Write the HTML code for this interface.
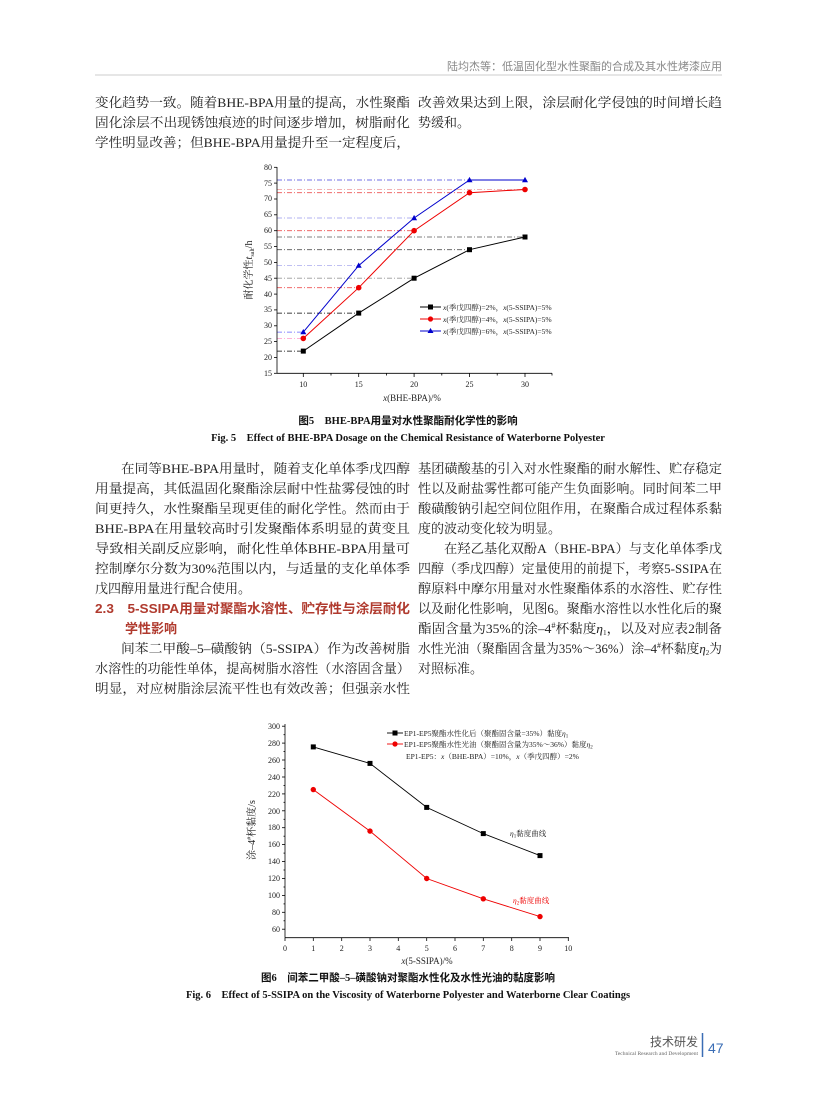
<!DOCTYPE html>
<html><head><meta charset="utf-8"><style>
html,body{margin:0;padding:0;background:#fff;}
svg{display:block;}
.b{font-family:"Liberation Serif","Noto Serif CJK SC",serif;font-size:13px;fill:#222;}
.t{font-family:"Liberation Serif","Noto Serif CJK SC",serif;font-size:8px;fill:#222;}
.l{font-family:"Liberation Serif","Noto Serif CJK SC",serif;font-size:7.5px;fill:#222;}
.cap{font-family:"Liberation Serif","Noto Sans CJK SC",sans-serif;font-size:10.5px;font-weight:bold;fill:#111;}
</style></head><body>
<svg width="816" height="1099" viewBox="0 0 816 1099" xmlns="http://www.w3.org/2000/svg">
<!-- header -->
<text x="722" y="70" text-anchor="end" style="font-family:'Liberation Sans','Noto Sans CJK SC',sans-serif;font-size:11px;fill:#888">陆均杰等：低温固化型水性聚酯的合成及其水性烤漆应用</text>
<line x1="95" y1="75" x2="722" y2="75" stroke="#ccc" stroke-width="1"/>

<!-- para 1 -->
<text class="b" x="95" y="107" textLength="315" lengthAdjust="spacingAndGlyphs">变化趋势一致。随着BHE-BPA用量的提高，水性聚酯</text>
<text class="b" x="95" y="127" textLength="315" lengthAdjust="spacingAndGlyphs">固化涂层不出现锈蚀痕迹的时间逐步增加，树脂耐化</text>
<text class="b" x="95" y="147" textLength="315" lengthAdjust="spacingAndGlyphs">学性明显改善；但BHE-BPA用量提升至一定程度后，</text>
<text class="b" x="418" y="107" textLength="304" lengthAdjust="spacingAndGlyphs">改善效果达到上限，涂层耐化学侵蚀的时间增长趋</text>
<text class="b" x="418" y="127">势缓和。</text>

<!-- Chart 1 -->
<g stroke-width="0.8" fill="none" stroke-dasharray="5,2,1,2">
<line x1="277" y1="351.1" x2="303.3" y2="351.1" stroke="#000"/>
<line x1="277" y1="313.1" x2="358.7" y2="313.1" stroke="#000"/>
<line x1="277" y1="278.2" x2="414.1" y2="278.2" stroke="#999"/>
<line x1="277" y1="249.7" x2="469.5" y2="249.7" stroke="#555"/>
<line x1="277" y1="237.0" x2="525" y2="237.0" stroke="#555"/>
<line x1="277" y1="338.4" x2="303.3" y2="338.4" stroke="#f9c"/>
<line x1="277" y1="287.7" x2="358.7" y2="287.7" stroke="#e55"/>
<line x1="277" y1="230.7" x2="414.1" y2="230.7" stroke="#e55"/>
<line x1="277" y1="192.7" x2="469.5" y2="192.7" stroke="#e55"/>
<line x1="277" y1="189.5" x2="525" y2="189.5" stroke="#e99"/>
<line x1="277" y1="332.1" x2="303.3" y2="332.1" stroke="#66f"/>
<line x1="277" y1="265.6" x2="358.7" y2="265.6" stroke="#aae"/>
<line x1="277" y1="218.0" x2="414.1" y2="218.0" stroke="#99e"/>
<line x1="277" y1="180.0" x2="525" y2="180.0" stroke="#44d"/>
</g>
<g stroke="#000" stroke-width="0.8">
<line x1="277" y1="167" x2="277" y2="373.3"/>
<line x1="277" y1="373.3" x2="552" y2="373.3"/>
<line x1="274" y1="373.3" x2="277" y2="373.3"/><line x1="274" y1="357.5" x2="277" y2="357.5"/><line x1="274" y1="341.6" x2="277" y2="341.6"/><line x1="274" y1="325.8" x2="277" y2="325.8"/><line x1="274" y1="309.9" x2="277" y2="309.9"/><line x1="274" y1="294.1" x2="277" y2="294.1"/><line x1="274" y1="278.2" x2="277" y2="278.2"/><line x1="274" y1="262.4" x2="277" y2="262.4"/><line x1="274" y1="246.5" x2="277" y2="246.5"/><line x1="274" y1="230.7" x2="277" y2="230.7"/><line x1="274" y1="214.8" x2="277" y2="214.8"/><line x1="274" y1="199.0" x2="277" y2="199.0"/><line x1="274" y1="183.1" x2="277" y2="183.1"/><line x1="274" y1="167.3" x2="277" y2="167.3"/>
<line x1="303.3" y1="373.3" x2="303.3" y2="377"/><line x1="358.7" y1="373.3" x2="358.7" y2="377"/><line x1="414.1" y1="373.3" x2="414.1" y2="377"/><line x1="469.5" y1="373.3" x2="469.5" y2="377"/><line x1="525" y1="373.3" x2="525" y2="377"/>
<line x1="331" y1="373.3" x2="331" y2="375.5"/><line x1="386.4" y1="373.3" x2="386.4" y2="375.5"/><line x1="441.8" y1="373.3" x2="441.8" y2="375.5"/><line x1="497.2" y1="373.3" x2="497.2" y2="375.5"/><line x1="552" y1="373.3" x2="552" y2="375.5"/>
</g>
<g class="t" text-anchor="end">
<text x="272" y="376">15</text><text x="272" y="360">20</text><text x="272" y="344">25</text><text x="272" y="328">30</text><text x="272" y="312">35</text><text x="272" y="297">40</text><text x="272" y="281">45</text><text x="272" y="265">50</text><text x="272" y="249">55</text><text x="272" y="233">60</text><text x="272" y="217">65</text><text x="272" y="201">70</text><text x="272" y="186">75</text><text x="272" y="170">80</text>
</g>
<g class="t" text-anchor="middle">
<text x="303.3" y="387">10</text><text x="358.7" y="387">15</text><text x="414.1" y="387">20</text><text x="469.5" y="387">25</text><text x="525" y="387">30</text>
<text x="412" y="401" style="font-size:9px"><tspan font-style="italic">x</tspan>(BHE-BPA)/%</text>
</g>
<text class="t" transform="translate(252,270) rotate(-90)" text-anchor="middle" style="font-size:10px">耐化学性<tspan font-style="italic">t</tspan><tspan font-size="6" dy="2">salt</tspan><tspan dy="-2">/h</tspan></text>
<polyline points="303.3,351.1 358.7,313.1 414.1,278.2 469.5,249.7 525,237" fill="none" stroke="#000" stroke-width="1"/>
<polyline points="303.3,338.4 358.7,287.7 414.1,230.7 469.5,192.7 525,189.5" fill="none" stroke="#e00" stroke-width="1"/>
<polyline points="303.3,332.1 358.7,265.6 414.1,218 469.5,180 525,180" fill="none" stroke="#00c" stroke-width="1"/>
<g fill="#000"><rect x="300.8" y="348.6" width="5" height="5"/><rect x="356.2" y="310.6" width="5" height="5"/><rect x="411.6" y="275.7" width="5" height="5"/><rect x="467" y="247.2" width="5" height="5"/><rect x="522.5" y="234.5" width="5" height="5"/></g>
<g fill="#e00"><circle cx="303.3" cy="338.4" r="2.8"/><circle cx="358.7" cy="287.7" r="2.8"/><circle cx="414.1" cy="230.7" r="2.8"/><circle cx="469.5" cy="192.7" r="2.8"/><circle cx="525" cy="189.5" r="2.8"/></g>
<g fill="#00c"><polygon points="303.3,329 300.3,334.3 306.3,334.3"/><polygon points="358.7,262.5 355.7,267.8 361.7,267.8"/><polygon points="414.1,214.9 411.1,220.2 417.1,220.2"/><polygon points="469.5,176.9 466.5,182.2 472.5,182.2"/><polygon points="525,176.9 522,182.2 528,182.2"/></g>
<!-- legend 1 -->
<line x1="420" y1="307" x2="441" y2="307" stroke="#000" stroke-width="1"/><rect x="428" y="304.5" width="5" height="5" fill="#000"/>
<line x1="420" y1="319" x2="441" y2="319" stroke="#e00" stroke-width="1"/><circle cx="430.5" cy="319" r="2.6" fill="#e00"/>
<line x1="420" y1="331" x2="441" y2="331" stroke="#00c" stroke-width="1"/><polygon points="430.5,328 427.5,333 433.5,333" fill="#00c"/>
<text class="l" x="443" y="310"><tspan font-style="italic">x</tspan>(季戊四醇)=2%，<tspan font-style="italic">x</tspan>(5-SSIPA)=5%</text>
<text class="l" x="443" y="322"><tspan font-style="italic">x</tspan>(季戊四醇)=4%，<tspan font-style="italic">x</tspan>(5-SSIPA)=5%</text>
<text class="l" x="443" y="334"><tspan font-style="italic">x</tspan>(季戊四醇)=6%，<tspan font-style="italic">x</tspan>(5-SSIPA)=5%</text>

<!-- caption 5 -->
<text class="cap" x="408" y="424" text-anchor="middle">图5　BHE-BPA用量对水性聚酯耐化学性的影响</text>
<text class="cap" x="408" y="441" text-anchor="middle">Fig. 5　Effect of BHE-BPA Dosage on the Chemical Resistance of Waterborne Polyester</text>

<!-- para 2 left -->
<text class="b" x="121" y="473" textLength="289" lengthAdjust="spacingAndGlyphs">在同等BHE-BPA用量时，随着支化单体季戊四醇</text>
<text class="b" x="95" y="493" textLength="315" lengthAdjust="spacingAndGlyphs">用量提高，其低温固化聚酯涂层耐中性盐雾侵蚀的时</text>
<text class="b" x="95" y="513" textLength="315" lengthAdjust="spacingAndGlyphs">间更持久，水性聚酯呈现更佳的耐化学性。然而由于</text>
<text class="b" x="95" y="533" textLength="315" lengthAdjust="spacingAndGlyphs">BHE-BPA在用量较高时引发聚酯体系明显的黄变且</text>
<text class="b" x="95" y="553" textLength="315" lengthAdjust="spacingAndGlyphs">导致相关副反应影响，耐化性单体BHE-BPA用量可</text>
<text class="b" x="95" y="573" textLength="315" lengthAdjust="spacingAndGlyphs">控制摩尔分数为30%范围以内，与适量的支化单体季</text>
<text class="b" x="95" y="593">戊四醇用量进行配合使用。</text>
<text x="95" y="613" textLength="315" lengthAdjust="spacingAndGlyphs" style="font-family:'Liberation Sans','Noto Sans CJK SC',sans-serif;font-size:13px;font-weight:bold;fill:#b03a2e">2.3　5-SSIPA用量对聚酯水溶性、贮存性与涂层耐化</text>
<text x="125" y="633" style="font-family:'Liberation Sans','Noto Sans CJK SC',sans-serif;font-size:13px;font-weight:bold;fill:#b03a2e">学性影响</text>
<text class="b" x="121" y="653" textLength="289" lengthAdjust="spacingAndGlyphs">间苯二甲酸–5–磺酸钠（5-SSIPA）作为改善树脂</text>
<text class="b" x="95" y="673" textLength="315" lengthAdjust="spacingAndGlyphs">水溶性的功能性单体，提高树脂水溶性（水溶固含量）</text>
<text class="b" x="95" y="693" textLength="315" lengthAdjust="spacingAndGlyphs">明显，对应树脂涂层流平性也有效改善；但强亲水性</text>

<!-- right col -->
<text class="b" x="418" y="473" textLength="304" lengthAdjust="spacingAndGlyphs">基团磺酸基的引入对水性聚酯的耐水解性、贮存稳定</text>
<text class="b" x="418" y="493" textLength="304" lengthAdjust="spacingAndGlyphs">性以及耐盐雾性都可能产生负面影响。同时间苯二甲</text>
<text class="b" x="418" y="513" textLength="304" lengthAdjust="spacingAndGlyphs">酸磺酸钠引起空间位阻作用，在聚酯合成过程体系黏</text>
<text class="b" x="418" y="533">度的波动变化较为明显。</text>
<text class="b" x="444" y="553" textLength="278" lengthAdjust="spacingAndGlyphs">在羟乙基化双酚A（BHE-BPA）与支化单体季戊</text>
<text class="b" x="418" y="573" textLength="304" lengthAdjust="spacingAndGlyphs">四醇（季戊四醇）定量使用的前提下，考察5-SSIPA在</text>
<text class="b" x="418" y="593" textLength="304" lengthAdjust="spacingAndGlyphs">醇原料中摩尔用量对水性聚酯体系的水溶性、贮存性</text>
<text class="b" x="418" y="613" textLength="304" lengthAdjust="spacingAndGlyphs">以及耐化性影响，见图6。聚酯水溶性以水性化后的聚</text>
<text class="b" x="418" y="633" textLength="304" lengthAdjust="spacingAndGlyphs">酯固含量为35%的涂–4<tspan font-size="8" dy="-5">#</tspan><tspan dy="5">杯黏度</tspan><tspan font-style="italic">η</tspan><tspan font-size="7" dy="2">1</tspan><tspan dy="-2">，以及对应表2制备</tspan></text>
<text class="b" x="418" y="653" textLength="304" lengthAdjust="spacingAndGlyphs">水性光油（聚酯固含量为35%～36%）涂–4<tspan font-size="8" dy="-5">#</tspan><tspan dy="5">杯黏度</tspan><tspan font-style="italic">η</tspan><tspan font-size="7" dy="2">2</tspan><tspan dy="-2">为</tspan></text>
<text class="b" x="418" y="673">对照标准。</text>

<!-- Chart 2 -->
<g stroke="#000" stroke-width="0.8">
<line x1="285" y1="724" x2="285" y2="937.7"/>
<line x1="285" y1="937.7" x2="569" y2="937.7"/>
<line x1="282" y1="929.2" x2="285" y2="929.2"/><line x1="282" y1="912.3" x2="285" y2="912.3"/><line x1="282" y1="895.4" x2="285" y2="895.4"/><line x1="282" y1="878.5" x2="285" y2="878.5"/><line x1="282" y1="861.5" x2="285" y2="861.5"/><line x1="282" y1="844.6" x2="285" y2="844.6"/><line x1="282" y1="827.7" x2="285" y2="827.7"/><line x1="282" y1="810.8" x2="285" y2="810.8"/><line x1="282" y1="793.9" x2="285" y2="793.9"/><line x1="282" y1="777" x2="285" y2="777"/><line x1="282" y1="760" x2="285" y2="760"/><line x1="282" y1="743.1" x2="285" y2="743.1"/><line x1="282" y1="726.2" x2="285" y2="726.2"/>
<line x1="283.5" y1="920.8" x2="285" y2="920.8"/><line x1="283.5" y1="903.9" x2="285" y2="903.9"/><line x1="283.5" y1="887" x2="285" y2="887"/><line x1="283.5" y1="870" x2="285" y2="870"/><line x1="283.5" y1="853.1" x2="285" y2="853.1"/><line x1="283.5" y1="836.2" x2="285" y2="836.2"/><line x1="283.5" y1="819.3" x2="285" y2="819.3"/><line x1="283.5" y1="802.3" x2="285" y2="802.3"/><line x1="283.5" y1="785.4" x2="285" y2="785.4"/><line x1="283.5" y1="768.5" x2="285" y2="768.5"/><line x1="283.5" y1="751.6" x2="285" y2="751.6"/><line x1="283.5" y1="734.7" x2="285" y2="734.7"/>
<line x1="285" y1="937.7" x2="285" y2="941"/><line x1="313.3" y1="937.7" x2="313.3" y2="941"/><line x1="341.7" y1="937.7" x2="341.7" y2="941"/><line x1="370" y1="937.7" x2="370" y2="941"/><line x1="398.3" y1="937.7" x2="398.3" y2="941"/><line x1="426.7" y1="937.7" x2="426.7" y2="941"/><line x1="455" y1="937.7" x2="455" y2="941"/><line x1="483.3" y1="937.7" x2="483.3" y2="941"/><line x1="511.7" y1="937.7" x2="511.7" y2="941"/><line x1="540" y1="937.7" x2="540" y2="941"/><line x1="568.3" y1="937.7" x2="568.3" y2="941"/>
</g>
<g class="t" text-anchor="end">
<text x="280" y="932">60</text><text x="280" y="915">80</text><text x="280" y="898">100</text><text x="280" y="881">120</text><text x="280" y="864">140</text><text x="280" y="847">160</text><text x="280" y="830">180</text><text x="280" y="814">200</text><text x="280" y="797">220</text><text x="280" y="780">240</text><text x="280" y="763">260</text><text x="280" y="746">280</text><text x="280" y="729">300</text>
</g>
<g class="t" text-anchor="middle">
<text x="285" y="951">0</text><text x="313.3" y="951">1</text><text x="341.7" y="951">2</text><text x="370" y="951">3</text><text x="398.3" y="951">4</text><text x="426.7" y="951">5</text><text x="455" y="951">6</text><text x="483.3" y="951">7</text><text x="511.7" y="951">8</text><text x="540" y="951">9</text><text x="568.3" y="951">10</text>
<text x="427" y="964" style="font-size:9px"><tspan font-style="italic">x</tspan>(5-SSIPA)/%</text>
</g>
<text class="t" transform="translate(255,830) rotate(-90)" text-anchor="middle" style="font-size:10px">涂–4<tspan font-size="6" dy="-4">#</tspan><tspan dy="4">杯黏度/s</tspan></text>
<polyline points="313.3,746.9 370,763.4 426.7,807.4 483.3,833.6 540,855.6" fill="none" stroke="#000" stroke-width="0.9"/>
<polyline points="313.3,789.6 370,831.1 426.7,878.5 483.3,898.8 540,916.6" fill="none" stroke="#e00" stroke-width="0.9"/>
<g fill="#000"><rect x="310.8" y="744.4" width="5" height="5"/><rect x="367.5" y="760.9" width="5" height="5"/><rect x="424.2" y="804.9" width="5" height="5"/><rect x="480.8" y="831.1" width="5" height="5"/><rect x="537.5" y="853.1" width="5" height="5"/></g>
<g fill="#e00"><circle cx="313.3" cy="789.6" r="2.7"/><circle cx="370" cy="831.1" r="2.7"/><circle cx="426.7" cy="878.5" r="2.7"/><circle cx="483.3" cy="898.8" r="2.7"/><circle cx="540" cy="916.6" r="2.7"/></g>
<line x1="387" y1="733" x2="403" y2="733" stroke="#000" stroke-width="0.9"/><rect x="392.5" y="730.5" width="5" height="5" fill="#000"/>
<line x1="387" y1="744" x2="403" y2="744" stroke="#e00" stroke-width="0.9"/><circle cx="395" cy="744" r="2.6" fill="#e00"/>
<text class="l" x="404" y="736">EP1-EP5聚酯水性化后（聚酯固含量=35%）黏度<tspan font-style="italic">η</tspan><tspan font-size="5" dy="1.5">1</tspan></text>
<text class="l" x="404" y="747">EP1-EP5聚酯水性光油（聚酯固含量为35%～36%）黏度<tspan font-style="italic">η</tspan><tspan font-size="5" dy="1.5">2</tspan></text>
<text class="l" x="406" y="759">EP1-EP5：<tspan font-style="italic">x</tspan>（BHE-BPA）=10%，<tspan font-style="italic">x</tspan>（季戊四醇）=2%</text>
<text class="l" x="510" y="836"><tspan font-style="italic">η</tspan><tspan font-size="5" dy="1.5">1</tspan><tspan dy="-1.5">黏度曲线</tspan></text>
<text class="l" x="513" y="903" style="fill:#e00"><tspan font-style="italic">η</tspan><tspan font-size="5" dy="1.5">2</tspan><tspan dy="-1.5">黏度曲线</tspan></text>

<!-- caption 6 -->
<text class="cap" x="408" y="981" text-anchor="middle">图6　间苯二甲酸–5–磺酸钠对聚酯水性化及水性光油的黏度影响</text>
<text class="cap" x="408" y="998" text-anchor="middle">Fig. 6　Effect of 5-SSIPA on the Viscosity of Waterborne Polyester and Waterborne Clear Coatings</text>

<!-- footer -->
<text x="698" y="1046" text-anchor="end" style="font-family:'Liberation Sans','Noto Sans CJK SC',sans-serif;font-size:12px;fill:#555">技术研发</text>
<text x="698" y="1055" text-anchor="end" style="font-family:'Liberation Serif',serif;font-size:5.5px;fill:#666">Technical Research and Development</text>
<line x1="702.5" y1="1033" x2="702.5" y2="1057" stroke="#3a6db5" stroke-width="1.5"/>
<text x="708" y="1053" style="font-family:'Liberation Sans',sans-serif;font-size:14px;fill:#3a6db5">47</text>
</svg>
</body></html>
